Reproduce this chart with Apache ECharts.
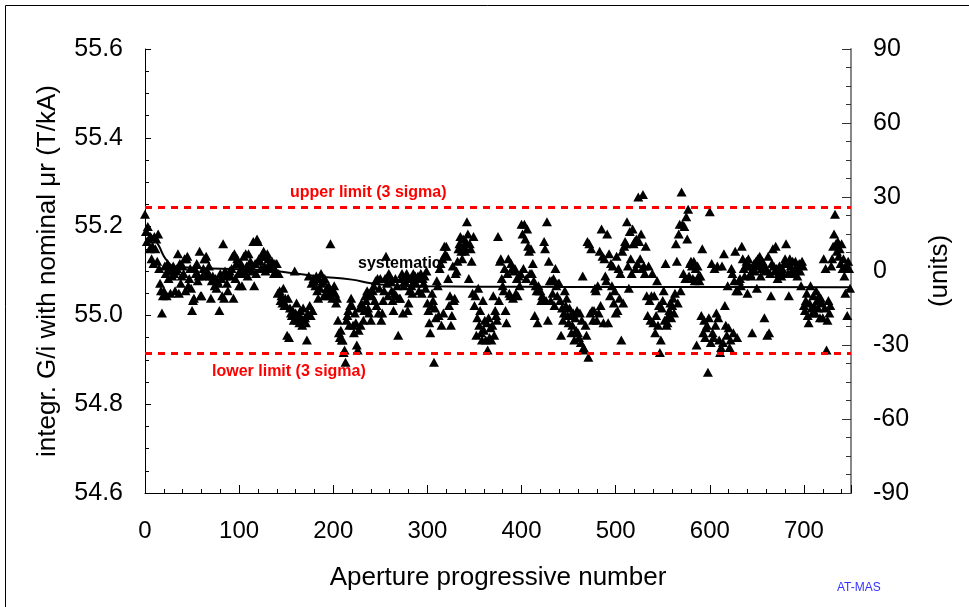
<!DOCTYPE html>
<html><head><meta charset="utf-8">
<script src="https://cdn.jsdelivr.net/npm/echarts@6/dist/echarts.min.js"></script>
<style>html,body{margin:0;padding:0;background:#fff}#c{width:969px;height:607px}</style>
</head><body><div id="c"></div>
<script>
// Deviation of each aperture, in units (1e-4); index = aperture number
const apertureUnits = [
 23,16,12,18,13,9,14,5,10,3,
 14,9,13,4,15,1,-5,-8,-17,-10,
 -8,2,-1,-10,3,-3,1,-9,0,-2,
 2,-1,-8,0,1,7,-9,3,-5,-2,
 2,-1,5,-8,5,6,-6,-3,1,-7,
 -16,-12,-11,1,-1,3,-4,-2,8,-10,
 -10,-2,1,5,5,6,0,-1,2,-2,
 -11,-4,-2,-3,-6,-3,-7,-4,-5,-16,
 -1,-3,-10,11,-11,0,-2,-5,-8,-1,
 0,-2,1,6,-11,7,-3,3,5,-1,
 -6,0,3,-6,1,6,-1,7,2,-2,
 7,1,4,2,0,12,-6,3,-1,13,
 12,5,4,1,6,7,8,2,0,6,
 7,5,3,1,3,4,2,-1,3,0,
 3,-9,-1,-8,-12,-10,-13,-7,-14,-11,
 -14,-26,-11,-27,-15,-17,-18,-16,-20,0,
 -17,-13,-20,-18,-21,-16,-19,-22,-15,-20,
 -19,-21,-28,-17,-2,-14,-18,-5,-16,-3,
 -4,-6,-2,-8,-11,-3,-7,-1,-5,-4,
 -10,-3,-9,-7,-10,-6,-9,11,-8,-11,
 -8,-6,-9,-13,-11,-20,-25,-27,-24,-28,
 -28,-33,-32,-37,-20,-18,-16,-22,-14,-11,
 -14,-22,-25,-17,-21,-30,-32,-24,-15,-22,
 -13,-14,-20,-16,-10,-12,-8,-15,-17,-9,
 -20,-10,-8,-6,-12,-4,-14,-3,-17,-7,
 -3,-20,-17,-12,-8,-3,6,-5,-10,-1,
 -2,-4,-8,-12,-16,-9,-3,-10,-6,-26,
 -11,-11,-3,-1,-17,-6,-4,-2,-1,-16,
 -13,-8,-3,-6,-9,-1,-4,-2,-5,-3,
 -2,-8,-3,-1,-9,-3,-5,-2,-7,0,
 -13,-16,-21,-25,-14,-9,-12,-37,-15,-19,
 -4,-6,-18,1,3,-22,5,-17,10,7,
 10,6,-3,-14,-10,-22,-18,2,-12,-11,
 -1,0,4,9,11,14,8,5,13,10,
 8,12,20,15,-3,11,9,4,-9,14,
 -14,-10,-26,-19,-7,-22,-16,-25,-28,-12,
 -24,-20,-28,-21,-32,-19,-27,-23,-28,-22,
 -10,-26,-16,-18,-20,14,-12,4,5,-3,
 -6,-8,1,-16,-21,-1,5,-9,-10,3,
 1,-11,0,1,-9,-3,-10,-2,-6,-1,
 19,15,1,19,13,-3,17,10,8,-1,
 9,-1,3,-4,-18,-6,-8,-21,-6,-8,
 -8,-12,-10,-11,12,9,-12,20,-20,4,
 -4,-12,-4,-9,-3,-14,1,-6,-10,-5,
 -5,-12,-26,-15,-20,-17,-8,-14,-11,-18,
 -21,-15,-18,-25,-22,-17,-28,-19,-24,-16,
 -25,-27,-17,-29,-20,-2,-31,-32,-22,-26,
 12,-35,11,-17,9,-16,-20,-16,-7,-8,
 -20,-6,-17,8,-14,17,6,-21,5,-2,
 -4,15,-21,7,-10,3,-6,2,-13,-8,
 -17,6,-16,1,-11,-1,-28,8,-13,10,
 12,11,20,2,-7,16,5,-1,17,11,
 12,1,13,3,30,12,5,15,1,31,
 2,-1,10,-10,-18,2,-12,-20,-10,-1,
 -21,-10,-25,-18,-4,-22,-14,-33,-28,-15,
 -12,-8,-20,3,-22,-21,-18,-16,-13,-19,
 -14,-11,-17,-9,11,4,-13,15,19,-8,
 32,19,-1,18,-3,22,13,25,-2,3,
 4,2,-3,4,-4,1,-30,2,-2,-4,
 -2,-18,9,-25,-20,-27,-23,-22,-41,-19,
 24,-29,3,-25,-27,1,-22,-17,2,-19,
 -28,-33,-31,2,-29,7,-14,-22,-26,-6,
 -23,-31,-28,1,-1,-25,-4,8,-8,-27,
 -8,-4,-3,-6,10,5,1,-2,2,4,
 -9,5,2,-1,-2,-25,1,3,0,4,
 -7,5,2,6,-2,1,4,3,-19,0,
 1,-26,6,-25,-1,-10,3,9,2,0,
 10,1,-3,-1,2,0,-2,1,-1,3,
 5,11,3,-1,-10,5,2,0,4,-1,
 -1,4,2,-2,1,3,0,-6,4,2,
 -14,-16,-12,-9,-18,-21,-13,-6,-15,-17,
 -10,-14,-17,-8,-12,-15,-10,-19,-11,-13,
 -19,5,-15,1,-32,-20,-12,-17,-14,2,
 5,10,15,23,11,8,12,6,9,3,
 11,1,5,-2,-9,2,-18,4,1,-7
];
// systematic trend (units)
const systematicX = [0,5,10,15,20,25,30,40,70,120,160,185,220,240,260,300,400,500,600,750];
const systematicUnits = [17,15,13,10,6,3.5,2,1.5,1,0.5,-1,-2.2,-3.5,-5,-5.8,-6.2,-6.4,-6.5,-6.5,-6.6];
// limits (units)
const upperLimitUnits = 25.9;
const lowerLimitUnits = -33.5;
// axes
const xRange = [0, 750];
const leftRange = [54.6, 55.6];
const rightRange = [-90, 90];

const FONT = "'Liberation Sans', Arial, sans-serif";
const chart = echarts.init(document.getElementById('c'), null, {renderer: 'canvas'});
const pts = apertureUnits.map((v, i) => [i, v]);
const sys = systematicX.map((x, i) => [x, systematicUnits[i]]);

chart.setOption({
  animation: false,
  backgroundColor: '#fff',
  grid: {left: 145, right: 118, top: 49, bottom: 114},
  xAxis: {
    type: 'value', min: xRange[0], max: xRange[1], interval: 100,
    name: 'Aperture progressive number', nameLocation: 'middle', nameGap: 72,
    nameTextStyle: {fontFamily: FONT, fontSize: 26, color: '#000'},
    axisLine: {show: true, onZero: false, lineStyle: {color: '#000', width: 1}},
    axisTick: {show: true, inside: true, length: 8, lineStyle: {color: '#000'}},
    minorTick: {show: true, splitNumber: 5, length: 4, lineStyle: {color: '#000'}},
    splitLine: {show: false},
    axisLabel: {fontFamily: FONT, fontSize: 24, color: '#000', margin: 26,
      formatter: v => (v % 100 === 0 ? String(v) : '')}
  },
  yAxis: [{
    type: 'value', min: leftRange[0], max: leftRange[1], interval: 0.2, position: 'left',
    name: 'integr. G/i with nominal \u03bcr (T/kA)', nameLocation: 'middle', nameGap: 84,
    nameTextStyle: {fontFamily: FONT, fontSize: 26, color: '#000'},
    axisLine: {show: true, onZero: false, lineStyle: {color: '#000', width: 1}},
    axisTick: {show: true, inside: true, length: 6, lineStyle: {color: '#000'}},
    minorTick: {show: true, splitNumber: 4, length: 4, lineStyle: {color: '#000'}},
    splitLine: {show: false},
    axisLabel: {fontFamily: FONT, fontSize: 25, color: '#000', margin: 22,
      formatter: v => v.toFixed(1)}
  }, {
    type: 'value', min: rightRange[0], max: rightRange[1], interval: 30, position: 'right',
    name: '(units)', nameLocation: 'middle', nameGap: 76, nameRotate: 90,
    nameTextStyle: {fontFamily: FONT, fontSize: 26, color: '#000'},
    axisLine: {show: true, onZero: false, lineStyle: {color: '#888', width: 2}},
    axisTick: {show: true, inside: true, length: 9, lineStyle: {color: '#333'}},
    minorTick: {show: true, splitNumber: 4, length: 5, lineStyle: {color: '#333'}},
    splitLine: {show: false},
    axisLabel: {fontFamily: FONT, fontSize: 25, color: '#000', margin: 22}
  }],
  series: [{
    type: 'line', yAxisIndex: 1, data: sys, smooth: true, showSymbol: false, z: 3,
    lineStyle: {color: '#000', width: 2}
  }, {
    type: 'scatter', yAxisIndex: 1, data: pts, symbol: 'triangle', symbolSize: [10, 9], z: 4,
    itemStyle: {color: '#000', opacity: 1},
    markLine: {
      silent: true, symbol: 'none', label: {show: false},
      lineStyle: {color: '#ff0000', type: [7, 6], width: 3},
      data: [{yAxis: upperLimitUnits}, {yAxis: lowerLimitUnits}]
    }
  }],
  graphic: [
    {type: 'rect', z: 0, shape: {x: 5.5, y: 5.5, width: 1000, height: 700}, style: {fill: null, stroke: '#000', lineWidth: 1}},
    {type: 'text', z: 1, x: 290, y: 193, style: {text: 'upper limit (3 sigma)', fill: '#ff0000', font: "bold 16px " + FONT, textVerticalAlign: 'middle'}},
    {type: 'text', z: 1, x: 212, y: 372, style: {text: 'lower limit (3 sigma)', fill: '#ff0000', font: "bold 16px " + FONT, textVerticalAlign: 'middle'}},
    {type: 'text', z: 1, x: 358, y: 264, style: {text: 'systematic', fill: '#000', font: "bold 16px " + FONT, textVerticalAlign: 'middle'}},
    {type: 'text', z: 1, x: 837, y: 588, style: {text: 'AT-MAS', fill: '#3333ff', font: "12px " + FONT, textVerticalAlign: 'middle'}}
  ]
});
</script></body></html>
